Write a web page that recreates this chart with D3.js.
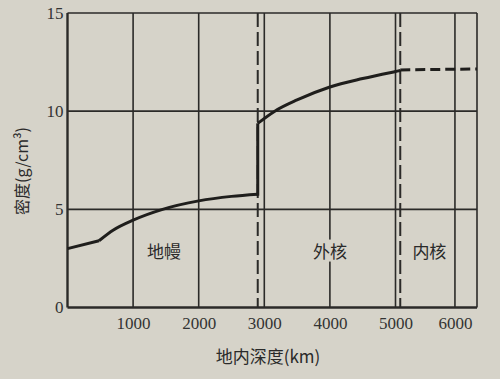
<!DOCTYPE html>
<html><head><meta charset="utf-8">
<script src="https://cdn.jsdelivr.net/npm/d3@7/dist/d3.min.js"></script>
<style>
html,body{margin:0;padding:0;background:#d6d3c9;}
svg{display:block;}
</style></head>
<body>
<script>
// ---- data ----
const xTicks = [1000, 2000, 3000, 4000, 5000, 6000];
const yTicks = [0, 5, 10, 15];
const crustDepth = [0, 480];
const crustDensity = [3.0, 3.4];
const mantleDepth = [480, 700, 1000, 1450, 2000, 2500, 2900];
const mantleDensity = [3.4, 3.95, 4.45, 5.0, 5.43, 5.66, 5.77];
const outerDepth = [2900, 3160, 3500, 4000, 4500, 5000, 5080];
const outerDensity = [9.38, 10.0, 10.57, 11.23, 11.66, 12.02, 12.07];
const innerDepth = [5080, 6371];
const innerDensity = [12.1, 12.15];
const boundaries = [2900, 5080];
const layerNames = ["地幔", "外核", "内核"];
const layerDepth = [1470, 4000, 5570];
const layerDensity = [2.9, 2.9, 2.9];
const xTitle = "地内深度(km)";
const yTitle = "密度(g/cm³)";

const W = 500, H = 379;
const svg = d3.select("body").append("svg").attr("width", W).attr("height", H);
const ink = "#2b2a28";
const paper = "#d6d3c9";

const x = d3.scaleLinear().domain([0, 5000, 6371]).range([67.5, 395.5, 477]);
const y = d3.scaleLinear().domain([0, 15]).range([307.5, 13]);

// grid
const g = svg.append("g");
g.selectAll("line.v").data(xTicks.concat([6371])).enter().append("line")
  .attr("x1", d => x(d)).attr("x2", d => x(d)).attr("y1", y(0)).attr("y2", y(15))
  .attr("stroke", ink).attr("stroke-width", 1.6);
g.selectAll("line.h").data([5, 10, 15]).enter().append("line")
  .attr("x1", x(0)).attr("x2", x(6371)).attr("y1", d => y(d)).attr("y2", d => y(d))
  .attr("stroke", ink).attr("stroke-width", 1.6);

// axes
const xAxis = d3.axisBottom(x).tickValues(xTicks).tickSize(0).tickPadding(9).tickFormat(d3.format("d"));
const ax = svg.append("g").attr("transform", `translate(0,${y(0)})`).call(xAxis);
ax.select(".domain").attr("stroke", ink).attr("stroke-width", 2.4).attr("d", `M${x(0)},0H${x(6371)}`);
ax.selectAll("text").attr("fill", "#333").style("font-family", "'Liberation Serif', serif").style("font-size", "17px");

const yAxis = d3.axisLeft(y).tickValues(yTicks).tickSize(0).tickPadding(4);
const ay = svg.append("g").attr("transform", `translate(${x(0)},0)`).call(yAxis);
ay.select(".domain").attr("stroke", ink).attr("stroke-width", 2.4).attr("d", `M0,${y(0)}V${y(15)}`);
ay.selectAll("text").attr("fill", "#333").style("font-family", "'Liberation Serif', serif").style("font-size", "17px");

// layer labels with paper background
layerNames.forEach((t, i) => {
  const cx = x(layerDepth[i]), cy = y(layerDensity[i]);
  svg.append("rect").attr("x", cx - 19).attr("y", cy - 11).attr("width", 38).attr("height", 22).attr("fill", paper);
  svg.append("text").attr("x", cx).attr("y", cy).attr("text-anchor", "middle").attr("dominant-baseline", "central")
    .attr("fill", "#2a2a2a").style("font-family", "'Noto Sans CJK SC', sans-serif").style("font-size", "17px")
    .text(t);
});

// boundary dashed lines
svg.selectAll("line.b").data(boundaries).enter().append("line")
  .attr("x1", d => x(d)).attr("x2", d => x(d)).attr("y1", y(15)).attr("y2", y(0))
  .attr("stroke", ink).attr("stroke-width", 2).attr("stroke-dasharray", "14,5");

// density curve
const lin = d3.line().x(d => x(d[0])).y(d => y(d[1]));
const smooth = d3.line().x(d => x(d[0])).y(d => y(d[1])).curve(d3.curveMonotoneX);
const pairs = (a, b) => a.map((d, i) => [d, b[i]]);
const curveColor = "#1f1e1c";
svg.append("path").attr("d", lin(pairs(crustDepth, crustDensity))).attr("fill", "none").attr("stroke", curveColor).attr("stroke-width", 3).attr("stroke-linejoin", "round");
svg.append("path").attr("d", smooth(pairs(mantleDepth, mantleDensity))).attr("fill", "none").attr("stroke", curveColor).attr("stroke-width", 3);
svg.append("line").attr("x1", x(2900)).attr("x2", x(2900))
  .attr("y1", y(mantleDensity[mantleDensity.length - 1]) + 1.5).attr("y2", y(outerDensity[0]))
  .attr("stroke", curveColor).attr("stroke-width", 3);
svg.append("path").attr("d", smooth(pairs(outerDepth, outerDensity))).attr("fill", "none").attr("stroke", curveColor).attr("stroke-width", 3);
svg.append("path").attr("d", lin(pairs(innerDepth, innerDensity)))
  .attr("fill", "none").attr("stroke", curveColor).attr("stroke-width", 3).attr("stroke-dasharray", "10,5");

// titles
svg.append("text").attr("x", 268).attr("y", 355).attr("text-anchor", "middle").attr("dominant-baseline", "central")
  .attr("fill", "#2a2a2a").style("font-family", "'Noto Sans CJK SC', sans-serif").style("font-size", "17px").text(xTitle);
svg.append("text").attr("transform", "translate(21,171) rotate(-90)").attr("text-anchor", "middle").attr("dominant-baseline", "central")
  .attr("fill", "#2a2a2a").style("font-family", "'Noto Sans CJK SC', sans-serif").style("font-size", "16px").text(yTitle);
</script>
</body></html>
